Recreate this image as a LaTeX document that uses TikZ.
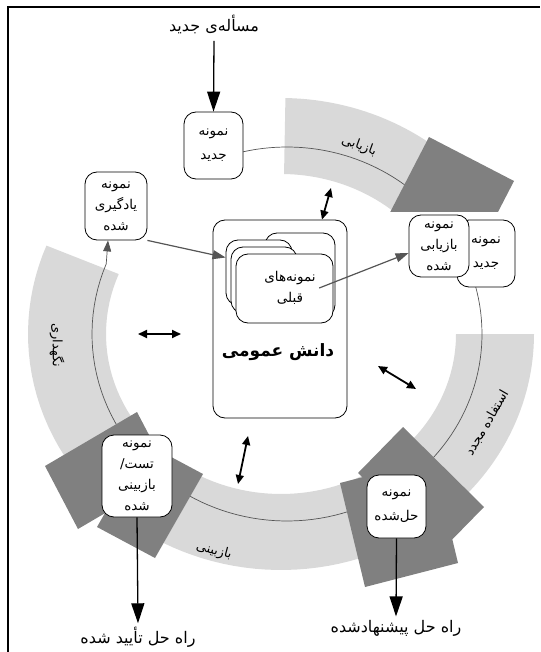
\documentclass[tikz,border=0pt]{standalone}
\usepackage{fontspec}
\usepackage{tikz}
\usetikzlibrary{arrows.meta}
\newfontfamily\farsi[Script=Arabic]{DejaVu Sans}
\TeXXeTstate=1
\newcommand{\rtl}[1]{\beginR#1\endR}
\definecolor{bandgray}{HTML}{D9D9D9}
\definecolor{blockgray}{HTML}{808080}
\definecolor{linegray}{HTML}{555555}

\begin{document}
\begin{tikzpicture}[x=1pt,y=-1pt,
    casebox/.style={draw, line width=0.8pt, rounded corners=12pt, fill=white, align=center, inner sep=0pt, font=\farsi\fontsize{13.5}{21}\selectfont},
    card/.style={draw, line width=0.8pt, rounded corners=12pt, fill=white},
    phase/.style={font=\farsi\fontsize{13}{15}\selectfont},
    io/.style={font=\farsi\fontsize{16}{18}\selectfont},
    bigarrow/.style={line width=1.3pt, -{Triangle[length=20pt,width=13pt]}},
    kbarrow/.style={line width=1.8pt, {Triangle[length=9pt,width=8pt]}-{Triangle[length=9pt,width=8pt]}},
    flowarrow/.style={linegray, line width=1.2pt, -{Triangle[length=13pt,width=9pt]}},
    ring/.style={linegray, line width=0.7pt},
    band/.style={fill=bandgray},
    block/.style={fill=blockgray}]
    \useasboundingbox (0,0) rectangle (540,652);
    % frame
    \draw[line width=1.5pt] (8,652) -- (8,7) -- (540,7);

    % retrieve band, cut off above the retrieved cases
    \begin{scope}
        \clip (0,0) rectangle (540,211);
        \fill[band] plot[domain=89:40,samples=30] ({281+253*cos(\x)},{334-236*sin(\x)}) -- plot[domain=40:89,samples=30] ({281+175*cos(\x)},{334-160*sin(\x)}) -- cycle;
        \draw[ring] plot[domain=103:45,samples=30] ({287+195*cos(\x)},{334-187*sin(\x)});
        \fill[block] (429,137) -- (514,181) -- (468,270) -- (383,226) -- cycle;
    \end{scope}
    % reuse, revise and retain bands
    \fill[band] plot[domain=0:-45,samples=30] ({281+253*cos(\x)},{334-236*sin(\x)}) -- plot[domain=-45:0,samples=30] ({281+175*cos(\x)},{334-160*sin(\x)}) -- cycle;
    \fill[band] plot[domain=-55:-125,samples=30] ({281+253*cos(\x)},{334-236*sin(\x)}) -- plot[domain=-125:-55,samples=30] ({281+175*cos(\x)},{334-160*sin(\x)}) -- cycle;
    \fill[band] plot[domain=235:158,samples=30] ({281+253*cos(\x)},{334-236*sin(\x)}) -- plot[domain=158:235,samples=30] ({281+175*cos(\x)},{334-160*sin(\x)}) -- cycle;
    % cycle line
    \draw[ring] plot[domain=15:-45,samples=30] ({287+195*cos(\x)},{334-187*sin(\x)});
    \draw[ring] plot[domain=-60:-125,samples=30] ({287+195*cos(\x)},{334-187*sin(\x)});
    \draw[ring] plot[domain=235:158,samples=30] ({287+195*cos(\x)},{334-187*sin(\x)}) coordinate (ringend);
    % dark blocks
    \fill[block] (45,466) -- (137,412) -- (170,475) -- (78,529) -- cycle;
    \fill[block] (97,527) -- (155,558) -- (203,474) -- (145,443) -- cycle;
    \fill[block] (403,427) -- (484,507) -- (439,553) -- (358,473) -- cycle;
    \fill[block] (340,483) -- (365,587) -- (458,563) -- (433,459) -- cycle;

    % phase labels
    \node[phase, rotate=-20] (retrievelbl) at (359,146) {\rtl{بازیابی}};
    \node[phase, rotate=60] (reuselbl) at (487,423) {\rtl{استفاده مجدد}};
    \node[phase, rotate=-15] (reviselbl) at (214,551) {\rtl{بازبینی}};
    \node[phase, rotate=-90] (retainlbl) at (57,345) {\rtl{نگهداری}};

    % cases on the cycle
    \node[casebox, minimum width=59pt, minimum height=67pt] (newcase) at (213.5,145.5) {\rtl{نمونه}\\[3pt]\rtl{جدید}};
    \node[casebox, minimum width=62pt, minimum height=68pt] (learned) at (116,206) {\rtl{نمونه}\\\rtl{یادگیری}\\\rtl{شده}};
    \node[casebox, minimum width=58pt, minimum height=67pt] (newcase2) at (486,253.5) {\rtl{نمونه}\\[3pt]\rtl{جدید}};
    \node[casebox, minimum width=60pt, minimum height=62pt] (retrieved) at (439,246) {\rtl{نمونه}\\\rtl{بازیابی}\\\rtl{شده}};
    \node[casebox, minimum width=59pt, minimum height=63pt] (solved) at (396.5,506.5) {\rtl{نمونه}\\[3pt]\rtl{حل‌شده}};
    \node[casebox, minimum width=70pt, minimum height=82pt] (tested) at (137,476) {\rtl{نمونه}\\\rtl{تست/}\\\rtl{بازبینی}\\\rtl{شده}};

    % retain line up to the learned case
    \draw[ring, -{Triangle[length=11pt,width=8pt]}] (ringend) -- ([xshift=-8pt]learned.south);

    % general knowledge with the previous cases
    \node[card, minimum width=134pt, minimum height=198pt] (kb) at (280,319) {};
    \node[card, minimum width=70pt, minimum height=84pt] (card0) at (300,275) {};
    \node[card, minimum width=66pt, minimum height=65pt] (card1) at (259,272.5) {};
    \node[card, minimum width=66pt, minimum height=66pt] (card2) at (264,280) {};
    \node[card, minimum width=97pt, minimum height=69pt] (card3) at (284.5,288.5) {};
    \node[align=center, font=\farsi\fontsize{13.5}{21}\selectfont] (prior) at (290,288) {\rtl{نمونه‌های}\\\rtl{قبلی}};
    \node[font=\farsi\bfseries\fontsize{17}{19}\selectfont] (kbtext) at (278,352) {\rtl{دانش عمومی}};

    % inputs and outputs
    \node[io] (problem) at (214,24) {\rtl{مسأله‌ی جدید}};
    \node[io] (proposed) at (396,628) {\rtl{راه حل پیشنهادشده}};
    \node[io] (confirmed) at (138,637) {\rtl{راه حل تأیید شده}};
    \draw[bigarrow] ([yshift=-4pt]problem.south) -- (newcase.north);
    \draw[bigarrow] (solved.south) -- (proposed.north);
    \draw[bigarrow] (tested.south) -- (confirmed.north);

    % flow of cases through the memory
    \draw[flowarrow] (learned.south east) -- ([yshift=15pt]card1.west);
    \draw[flowarrow] (prior.east) -- ([yshift=-7pt]retrieved.west);

    % links between the phases and the knowledge
    \coordinate (rtv) at (331,188);
    \coordinate (rtn1) at (138,334);
    \coordinate (rtn2) at (181,334);
    \coordinate (reu1) at (378,366);
    \coordinate (reu2) at (416,389);
    \coordinate (rev1) at (248,436);
    \coordinate (rev2) at (238,484);
    \draw[kbarrow] (rtv) -- ([xshift=42pt]kb.north);
    \draw[kbarrow] (rtn1) -- (rtn2);
    \draw[kbarrow] (reu1) -- (reu2);
    \draw[kbarrow] (rev1) -- (rev2);
\end{tikzpicture}
\end{document}
